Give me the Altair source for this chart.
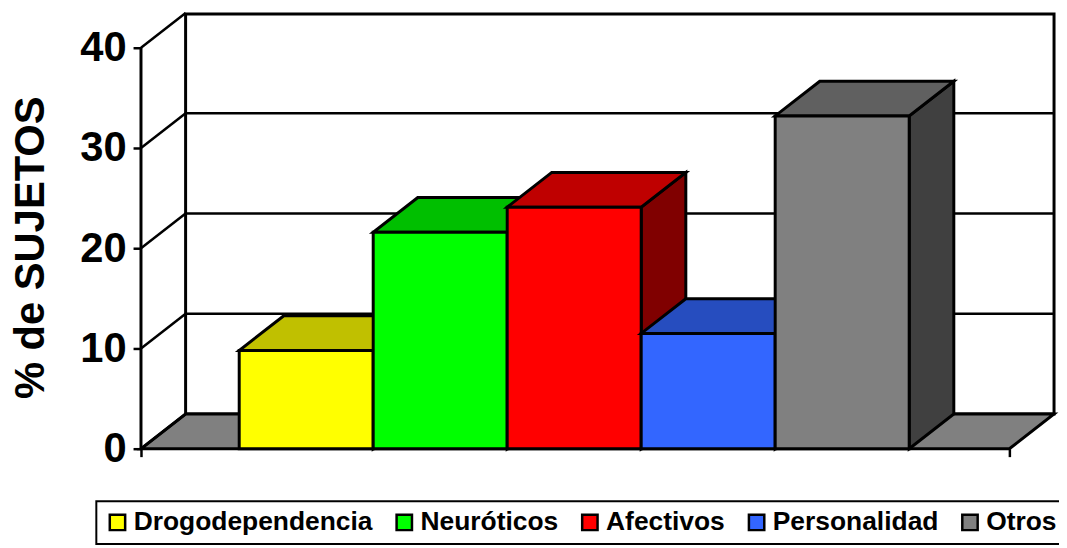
import altair as alt
import pandas as pd

categories = ["Drogodependencia", "Neuróticos", "Afectivos", "Personalidad", "Otros"]
values = [9.8, 21.6, 24.1, 11.5, 33.2]
front_colors = ["#FFFF00", "#00FF00", "#FF0000", "#3366FF", "#808080"]
top_colors = ["#C0C000", "#00BF00", "#BF0000", "#264DBF", "#606060"]
side_colors = ["#808000", "#008000", "#800000", "#1A3380", "#404040"]
y_ticks = [0, 10, 20, 30, 40]

FONT = "Liberation Sans"
XMIN, XFRONT, XMAX = -0.733, 5.748, 6.081
YMAX = 43.37
DX, DY = 0.333, 3.465

xs = alt.Scale(domain=[XMIN, XMAX], nice=False, zero=False)
ys = alt.Scale(domain=[0, YMAX], nice=False, zero=False)
XP = alt.X("x:Q", scale=xs, title=None,
           axis=alt.Axis(values=[XMIN, XFRONT], labels=False, domain=False, grid=False,
                         tickSize=8, tickWidth=2.5, tickColor="black", title=None))
YP = alt.Y("y:Q", scale=ys,
           axis=alt.Axis(values=y_ticks, domain=False, grid=False, tickSize=8, tickWidth=2.5,
                         tickColor="black", labelFont=FONT, labelFontWeight="bold",
                         labelFontSize=42, labelColor="black", labelPadding=7,
                         title="% de SUJETOS", titleFont=FONT, titleFontWeight="bold",
                         titleFontSize=42, titleColor="black", titleX=-89, titleY=235,
                         titleAngle=270, titleAlign="center", titleBaseline="bottom"))

lines = dict(stroke="black", strokeWidth=3, strokeJoin="miter")

layers = []
# back wall
layers.append(alt.Chart(pd.DataFrame({"x": [XMIN + DX], "x2": [XMAX], "y": [DY], "y2": [YMAX]}))
              .mark_rect(fill="white", **lines)
              .encode(x=XP, x2="x2:Q", y=YP, y2="y2:Q"))
# floor
layers.append(alt.Chart(pd.DataFrame({"y": [0, DY], "x": [XMIN, XMIN + DX], "x2": [XFRONT, XFRONT + DX]}))
              .mark_area(orient="horizontal", fill="#808080", opacity=1, **lines)
              .encode(y=YP, x=XP, x2="x2:Q"))
# gridlines on the back wall and the left wall
layers.append(alt.Chart(pd.DataFrame({"y": [v + DY for v in y_ticks[1:4]],
                                      "x": [XMIN + DX] * 3, "x2": [XMAX] * 3}))
              .mark_rule(stroke="black", strokeWidth=2.5)
              .encode(y=YP, x=XP, x2="x2:Q"))
layers.append(alt.Chart(pd.DataFrame({"x": [XMIN], "y": [0], "y2": [40]}))
              .mark_rule(stroke="black", strokeWidth=3)
              .encode(x=XP, y=YP, y2="y2:Q"))
diag = pd.DataFrame([{"t": v, "x": XMIN + i * DX, "y": v + i * DY} for v in y_ticks for i in (0, 1)])
layers.append(alt.Chart(diag).mark_line(stroke="black", strokeWidth=2.5)
              .encode(x=XP, y=YP, detail="t:N"))

for i, (cat, val) in enumerate(zip(categories, values)):
    side = pd.DataFrame({"x": [i + 1, i + 1 + DX], "y": [0, DY], "y2": [val, val + DY]})
    layers.append(alt.Chart(side).mark_area(orient="vertical", fill=side_colors[i], opacity=1, **lines)
                  .encode(x=XP, y=YP, y2="y2:Q"))
    top = pd.DataFrame({"y": [val, val + DY], "x": [i, i + DX], "x2": [i + 1, i + 1 + DX]})
    layers.append(alt.Chart(top).mark_area(orient="horizontal", fill=top_colors[i], opacity=1, **lines)
                  .encode(y=YP, x=XP, x2="x2:Q"))
    front = pd.DataFrame({"cat": [cat], "x": [i], "x2": [i + 1], "y": [0], "y2": [val]})
    layers.append(alt.Chart(front).mark_rect(opacity=1, **lines)
                  .encode(x=XP, x2="x2:Q", y=YP, y2="y2:Q",
                          color=alt.Color("cat:N",
                                          scale=alt.Scale(domain=categories, range=front_colors),
                                          legend=alt.Legend(
                                              title=None, orient="none", legendX=-45, legendY=491,
                                              direction="horizontal", columns=5, gridAlign="none",
                                              columnPadding=18, symbolType="square", symbolSize=240,
                                              symbolStrokeColor="black", symbolStrokeWidth=2.5,
                                              symbolOpacity=1, labelFont=FONT, labelFontWeight="bold",
                                              labelFontSize=26.6, labelColor="black", labelOffset=3,
                                              labelLimit=400, padding=8, strokeColor="black",
                                              fillColor="white", values=categories))))

chart = (alt.layer(*layers)
         .resolve_scale(x="shared", y="shared")
         .properties(width=920, height=438,
                     padding={"left": 134, "top": 4, "right": 5, "bottom": 98},
                     autosize=alt.AutoSizeParams(type="none"),
                     background="white")
         .configure_view(stroke=None)
         .configure_legend(strokeWidth=2))

chart.save("out.html", embed_options={"renderer": "svg", "actions": False})
